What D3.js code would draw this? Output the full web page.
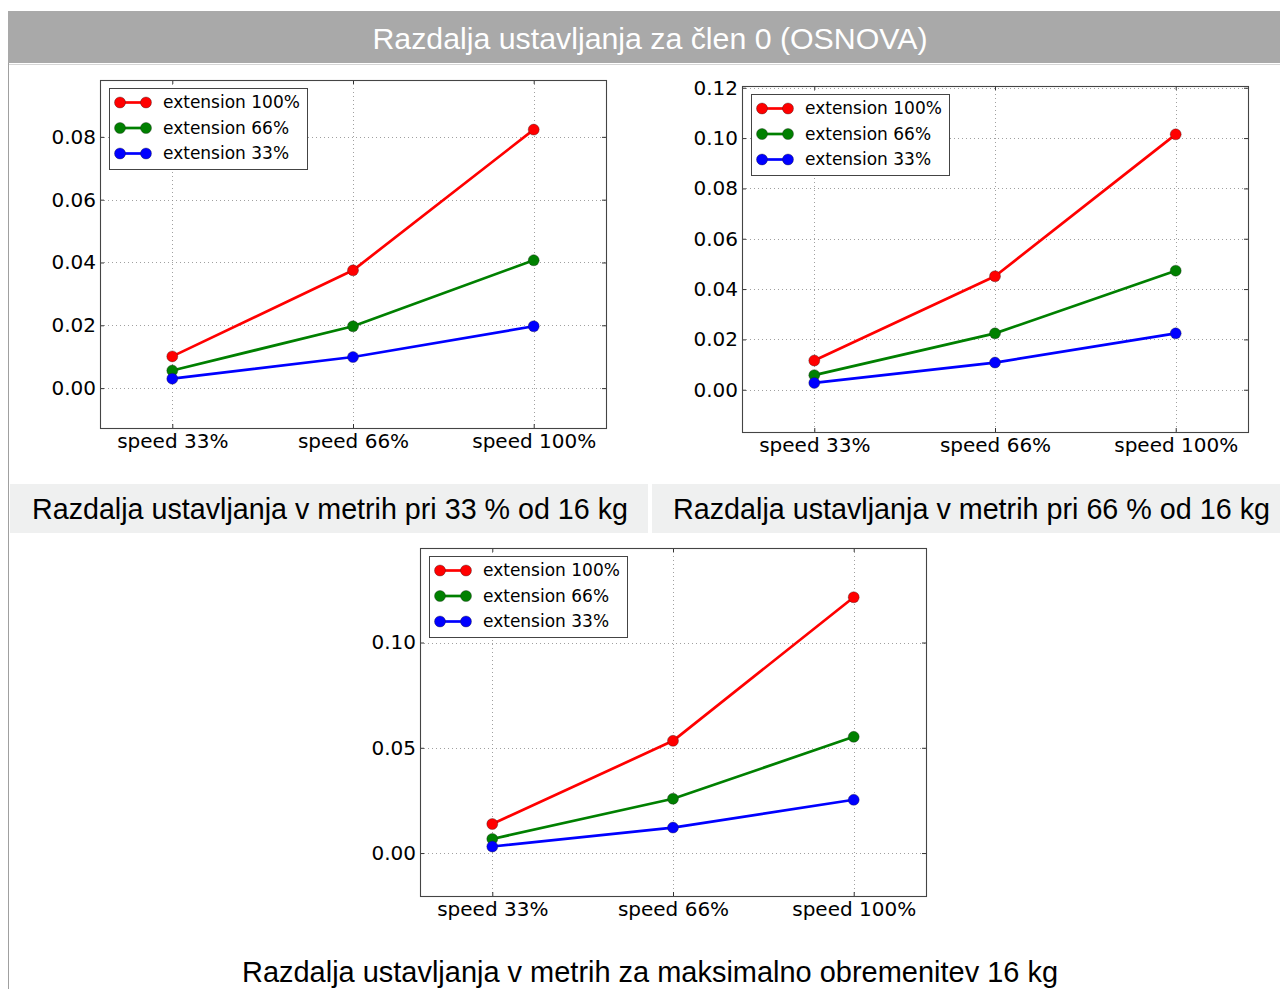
<!DOCTYPE html>
<html><head><meta charset="utf-8">
<script src="https://cdn.jsdelivr.net/npm/d3@7"></script>
<style>html,body{margin:0;padding:0;background:#fff;overflow:hidden} svg{display:block}</style>
</head><body><svg id="c" width="1280" height="989"></svg>
<script>
// ---------- data ----------
const categories = ["speed 33%", "speed 66%", "speed 100%"];
const seriesNames = ["extension 100%", "extension 66%", "extension 33%"];
const seriesColors = ["#ff0000", "#008000", "#0000ff"];

// panel 1: 33 % of 16 kg
const p1Ext100 = [0.0101, 0.0375, 0.0823];
const p1Ext66  = [0.0056, 0.0197, 0.0407];
const p1Ext33  = [0.0030, 0.0099, 0.0197];
const p1Ticks  = [0.00, 0.02, 0.04, 0.06, 0.08];
const p1Limits = [-0.0127, 0.0981];

// panel 2: 66 % of 16 kg
const p2Ext100 = [0.0116, 0.0451, 0.1015];
const p2Ext66  = [0.0058, 0.0224, 0.0473];
const p2Ext33  = [0.0027, 0.0108, 0.0224];
const p2Ticks  = [0.00, 0.02, 0.04, 0.06, 0.08, 0.10, 0.12];
const p2Limits = [-0.0168, 0.1207];

// panel 3: maximum load 16 kg
const p3Ext100 = [0.0138, 0.0533, 0.1215];
const p3Ext66  = [0.0067, 0.0258, 0.0552];
const p3Ext33  = [0.0031, 0.0121, 0.0253];
const p3Ticks  = [0.00, 0.05, 0.10];
const p3Limits = [-0.0204, 0.1449];

const pageTitle = "Razdalja ustavljanja za člen 0 (OSNOVA)";
const captions = [
  "Razdalja ustavljanja v metrih pri 33 % od 16 kg",
  "Razdalja ustavljanja v metrih pri 66 % od 16 kg",
  "Razdalja ustavljanja v metrih za maksimalno obremenitev 16 kg"
];

// ---------- layout ----------
const svg = d3.select("#c");
const panels = [
  {box: [100, 80, 606, 428], series: [p1Ext100, p1Ext66, p1Ext33], ticks: p1Ticks, lim: p1Limits},
  {box: [742, 86, 1248, 432], series: [p2Ext100, p2Ext66, p2Ext33], ticks: p2Ticks, lim: p2Limits},
  {box: [420, 548, 926, 896], series: [p3Ext100, p3Ext66, p3Ext33], ticks: p3Ticks, lim: p3Limits}
];

// page chrome
svg.append("rect").attr("x", 8).attr("y", 11).attr("width", 1272).attr("height", 52).attr("fill", "#a9a9a9");
svg.append("line").attr("x1", 8).attr("x2", 1280).attr("y1", 64.5).attr("y2", 64.5).attr("stroke", "#d6d6d6").attr("stroke-width", 1);
svg.append("line").attr("x1", 8.5).attr("x2", 8.5).attr("y1", 63).attr("y2", 989).attr("stroke", "#a0a0a0").attr("stroke-width", 1);
svg.append("text").attr("x", 650).attr("y", 49)
  .attr("text-anchor", "middle").attr("fill", "#fff")
  .attr("font-family", "'Liberation Sans', Arial, sans-serif").attr("font-size", 30)
  .attr("textLength", 555).attr("lengthAdjust", "spacingAndGlyphs")
  .text(pageTitle);

// caption row
svg.append("rect").attr("x", 10).attr("y", 484).attr("width", 638).attr("height", 49).attr("fill", "#eff0f0");
svg.append("rect").attr("x", 652).attr("y", 484).attr("width", 628).attr("height", 49).attr("fill", "#eff0f0");
const capInfo = [
  {x: 330, y: 519, w: 596, t: captions[0]},
  {x: 971.5, y: 519, w: 597, t: captions[1]},
  {x: 650, y: 982, w: 816, t: captions[2]}
];
capInfo.forEach(c => {
  svg.append("text").attr("x", c.x).attr("y", c.y).attr("text-anchor", "middle")
    .attr("fill", "#000").attr("font-family", "'Liberation Sans', Arial, sans-serif")
    .attr("font-size", 29).attr("textLength", c.w).attr("lengthAdjust", "spacingAndGlyphs")
    .text(c.t);
});

// ---------- panels ----------
panels.forEach(p => {
  const [x0, y0, x1, y1] = p.box;
  const x = d3.scaleLinear().domain([-0.4, 2.4]).range([x0, x1]);
  const y = d3.scaleLinear().domain(p.lim).range([y1, y0]);
  const g = svg.append("g");
  const fmt = d3.format(".2f");

  // grid
  g.selectAll(".gy").data(p.ticks).join("line")
    .attr("x1", x0).attr("x2", x1)
    .attr("y1", d => Math.round(y(d)) + 0.5).attr("y2", d => Math.round(y(d)) + 0.5)
    .attr("stroke", "#888").attr("stroke-width", 0.8).attr("stroke-dasharray", "1,3");
  g.selectAll(".gx").data(categories).join("line")
    .attr("y1", y0).attr("y2", y1)
    .attr("x1", (d, i) => Math.round(x(i)) + 0.5).attr("x2", (d, i) => Math.round(x(i)) + 0.5)
    .attr("stroke", "#888").attr("stroke-width", 0.8).attr("stroke-dasharray", "1,3");

  // axes via d3 axis generators (inner ticks)
  const yAxisL = d3.axisLeft(y).tickValues(p.ticks).tickFormat(fmt).tickSizeInner(-4).tickSizeOuter(0).tickPadding(4);
  const yAxisR = d3.axisRight(y).tickValues(p.ticks).tickFormat("").tickSizeInner(-4).tickSizeOuter(0);
  const xAxisB = d3.axisBottom(x).tickValues([0, 1, 2]).tickFormat(i => categories[i]).tickSizeInner(-4).tickSizeOuter(0).tickPadding(6);
  const xAxisT = d3.axisTop(x).tickValues([0, 1, 2]).tickFormat("").tickSizeInner(-4).tickSizeOuter(0);

  const styleAxis = sel => {
    sel.select(".domain").remove();
    sel.selectAll(".tick line").attr("stroke", "#333");
    sel.selectAll(".tick text").attr("font-family", "'DejaVu Sans', sans-serif").attr("font-size", 20).attr("fill", "#000");
  };
  g.append("g").attr("transform", `translate(${x0},0)`).call(yAxisL).call(styleAxis);
  g.append("g").attr("transform", `translate(${x1},0)`).call(yAxisR).call(styleAxis);
  g.append("g").attr("transform", `translate(0,${y1})`).call(xAxisB).call(styleAxis);
  g.append("g").attr("transform", `translate(0,${y0})`).call(xAxisT).call(styleAxis);

  // lines + markers
  const line = d3.line().x((d, i) => x(i)).y(d => y(d));
  p.series.forEach((vals, si) => {
    g.append("path").datum(vals).attr("d", line)
      .attr("fill", "none").attr("stroke", seriesColors[si]).attr("stroke-width", 2.7)
      .attr("stroke-linejoin", "round");
  });
  p.series.forEach((vals, si) => {
    g.selectAll(null).data(vals).join("circle")
      .attr("cx", (d, i) => x(i)).attr("cy", d => y(d)).attr("r", 5.5)
      .attr("fill", seriesColors[si]).attr("stroke", "#222").attr("stroke-opacity", 0.6).attr("stroke-width", 0.6);
  });

  // frame
  g.append("rect").attr("x", x0 + 0.5).attr("y", y0 + 0.5).attr("width", x1 - x0).attr("height", y1 - y0)
    .attr("fill", "none").attr("stroke", "#444").attr("stroke-width", 1.1);

  // legend
  const lx = x0 + 9, ly = y0 + 8;
  const lg = g.append("g").attr("transform", `translate(${lx},${ly})`);
  lg.append("rect").attr("x", 0.5).attr("y", 0.5).attr("width", 198).attr("height", 81)
    .attr("fill", "#fff").attr("stroke", "#444").attr("stroke-width", 1);
  seriesNames.forEach((name, si) => {
    const ry = 14.5 + si * 25.5;
    lg.append("line").attr("x1", 11).attr("x2", 37).attr("y1", ry).attr("y2", ry)
      .attr("stroke", seriesColors[si]).attr("stroke-width", 2.7);
    [11, 37].forEach(cx => lg.append("circle").attr("cx", cx).attr("cy", ry).attr("r", 5.5)
      .attr("fill", seriesColors[si]).attr("stroke", "#222").attr("stroke-opacity", 0.6).attr("stroke-width", 0.6));
    lg.append("text").attr("x", 54).attr("y", ry).attr("dy", "0.35em")
      .attr("font-family", "'DejaVu Sans', sans-serif").attr("font-size", 17).attr("fill", "#000")
      .text(name);
  });
});
</script>
</body></html>
